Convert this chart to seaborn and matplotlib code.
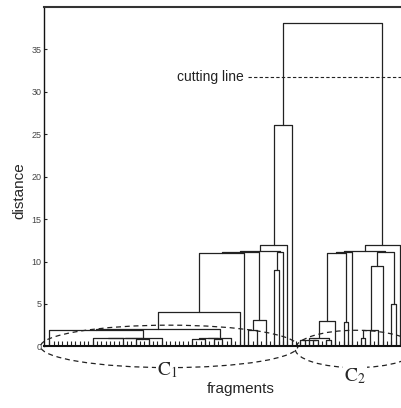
import matplotlib
matplotlib.use("Agg")
import matplotlib.pyplot as plt
from matplotlib.patches import Ellipse
import seaborn as sns
import pandas as pd

# ---------------- data ----------------
n_fragments = 82                      # leaves (fragments) along the x axis

# hierarchical merges: name, merge distance, children (leaf index or earlier node name)
node_names = ["a1", "a2", "a3", "A", "P1", "b1", "b2", "b3", "B", "P2", "F", "X",
              "c1", "c2", "Y", "d1", "W", "Z", "G", "L",
              "e1", "e2", "e3", "e4", "e5", "R3", "f1", "RX", "RY",
              "g1", "g2", "R9", "R5", "RW", "RZ", "R", "root"]
node_heights = [0.94, 0.92, 0.97, 1.0, 1.95, 0.9, 0.92, 0.95, 0.97, 2.0, 4.0, 11.0,
                1.9, 3.1, 11.15, 9.0, 11.1, 11.25, 12.0, 26.1,
                0.7, 0.72, 0.75, 0.75, 1.0, 3.0, 2.9, 11.0, 11.1,
                0.94, 1.9, 9.5, 5.0, 11.15, 11.2, 12.0, 38.1]
node_children = [[10, 17], [20, 23], ["a1", "a2"], ["a3", 26], [0, "A"],
                 [33, 36], [38, 40], ["b1", "b2"], ["b3", 42], ["P1", "B"],
                 ["P2", 44], ["F", 45], [46, 48], ["c1", 50], ["X", "c2"],
                 [52, 53], ["d1", 54], ["Y", "W"], ["Z", 55], ["G", 56],
                 [58, 59], [61, 62], ["e1", 60, "e2"], [64, 65], ["e3", "e4"],
                 ["e5", 66], [68, 69], ["R3", "f1"], ["RX", 70],
                 [72, 73], ["g1", 74, 76], ["g2", 77], [79, 80], ["R9", "R5"],
                 ["RY", "RW"], ["RZ", 81], ["L", "R"]]

cut_height = 31.8
y_ticks = [0, 5, 10, 15, 20, 25, 30, 35]
cluster_labels = [r"$\mathrm{C}_1$", r"$\mathrm{C}_2$"]

# ---------------- build dendrogram segments ----------------
pos = {i: float(i) for i in range(n_fragments)}
hgt = {i: 0.0 for i in range(n_fragments)}
rows = []
seg = 0
for name, h, ch in zip(node_names, node_heights, node_children):
    xs = [pos[c] for c in ch]
    hs = [hgt[c] for c in ch]
    for x, y in [(xs[0], hs[0]), (xs[0], h), (xs[-1], h), (xs[-1], hs[-1])]:
        rows.append((seg, x, y))
    seg += 1
    for x, y0 in zip(xs[1:-1], hs[1:-1]):
        rows.append((seg, x, y0))
        rows.append((seg, x, h))
        seg += 1
    pos[name] = (xs[0] + xs[-1]) / 2
    hgt[name] = h
df = pd.DataFrame(rows, columns=["seg", "x", "y"])

# ---------------- plot ----------------
sns.set_style("ticks")
plt.rcParams["font.family"] = ["Liberation Sans", "DejaVu Sans"]
plt.rcParams["mathtext.fontset"] = "stix"

fig = plt.figure(figsize=(4.02, 4.08), dpi=100)
ax = fig.add_axes([0.110, 0.151, 0.890, 0.832])

sns.lineplot(data=df, x="x", y="y", units="seg", estimator=None, sort=False,
             color="#222222", linewidth=0.9, ax=ax)

ax.set_xlim(-1.15, 81.45)
ax.set_ylim(0, 40)
ax.set_xticks(range(n_fragments))
ax.set_xticklabels([])
ax.set_yticks(y_ticks)
ax.set_yticklabels([str(t) for t in y_ticks])
ax.tick_params(axis="x", direction="in", length=3.5, width=0.8, color="#222222")
ax.tick_params(axis="y", direction="in", length=2.5, width=0.8, labelsize=6.5,
               labelcolor="#444444", pad=2)

for s in ["right"]:
    ax.spines[s].set_visible(False)
ax.spines["top"].set_linewidth(1.5)
ax.spines["top"].set_color("#333333")
ax.spines["left"].set_linewidth(1.0)
ax.spines["left"].set_color("#111111")
ax.spines["bottom"].set_linewidth(1.5)
ax.spines["bottom"].set_color("#111111")

ax.set_ylabel("distance", fontsize=11)
ax.yaxis.set_label_coords(-0.050, 0.46)
ax.set_xlabel("fragments", fontsize=11)
ax.xaxis.set_label_coords(0.55, -0.105)

# cutting line
ax.plot([45.9, 81.45], [cut_height, cut_height], linestyle=(0, (3, 2)),
        linewidth=0.8, color="#222222", clip_on=False)
ax.text(45.0, cut_height, "cutting line", ha="right", va="center", fontsize=10,
        color="#222222")

# cluster ellipses
ax.add_patch(Ellipse((27.7, 0.0), width=59.4, height=5.0, fill=False,
                     linestyle=(0, (4, 3)), linewidth=0.9, edgecolor="#222222",
                     clip_on=False))
ax.add_patch(Ellipse((70.8, -0.3), width=28.0, height=4.4, fill=False,
                     linestyle=(0, (4, 3)), linewidth=0.9, edgecolor="#222222",
                     clip_on=False))
ax.text(27.2, -2.8, cluster_labels[0], ha="center", va="center", fontsize=14,
        clip_on=False, bbox=dict(facecolor="white", edgecolor="none", pad=0.5))
ax.text(70.6, -3.5, cluster_labels[1], ha="center", va="center", fontsize=14,
        clip_on=False, bbox=dict(facecolor="white", edgecolor="none", pad=0.5))

fig.savefig("out.png", dpi=100)
